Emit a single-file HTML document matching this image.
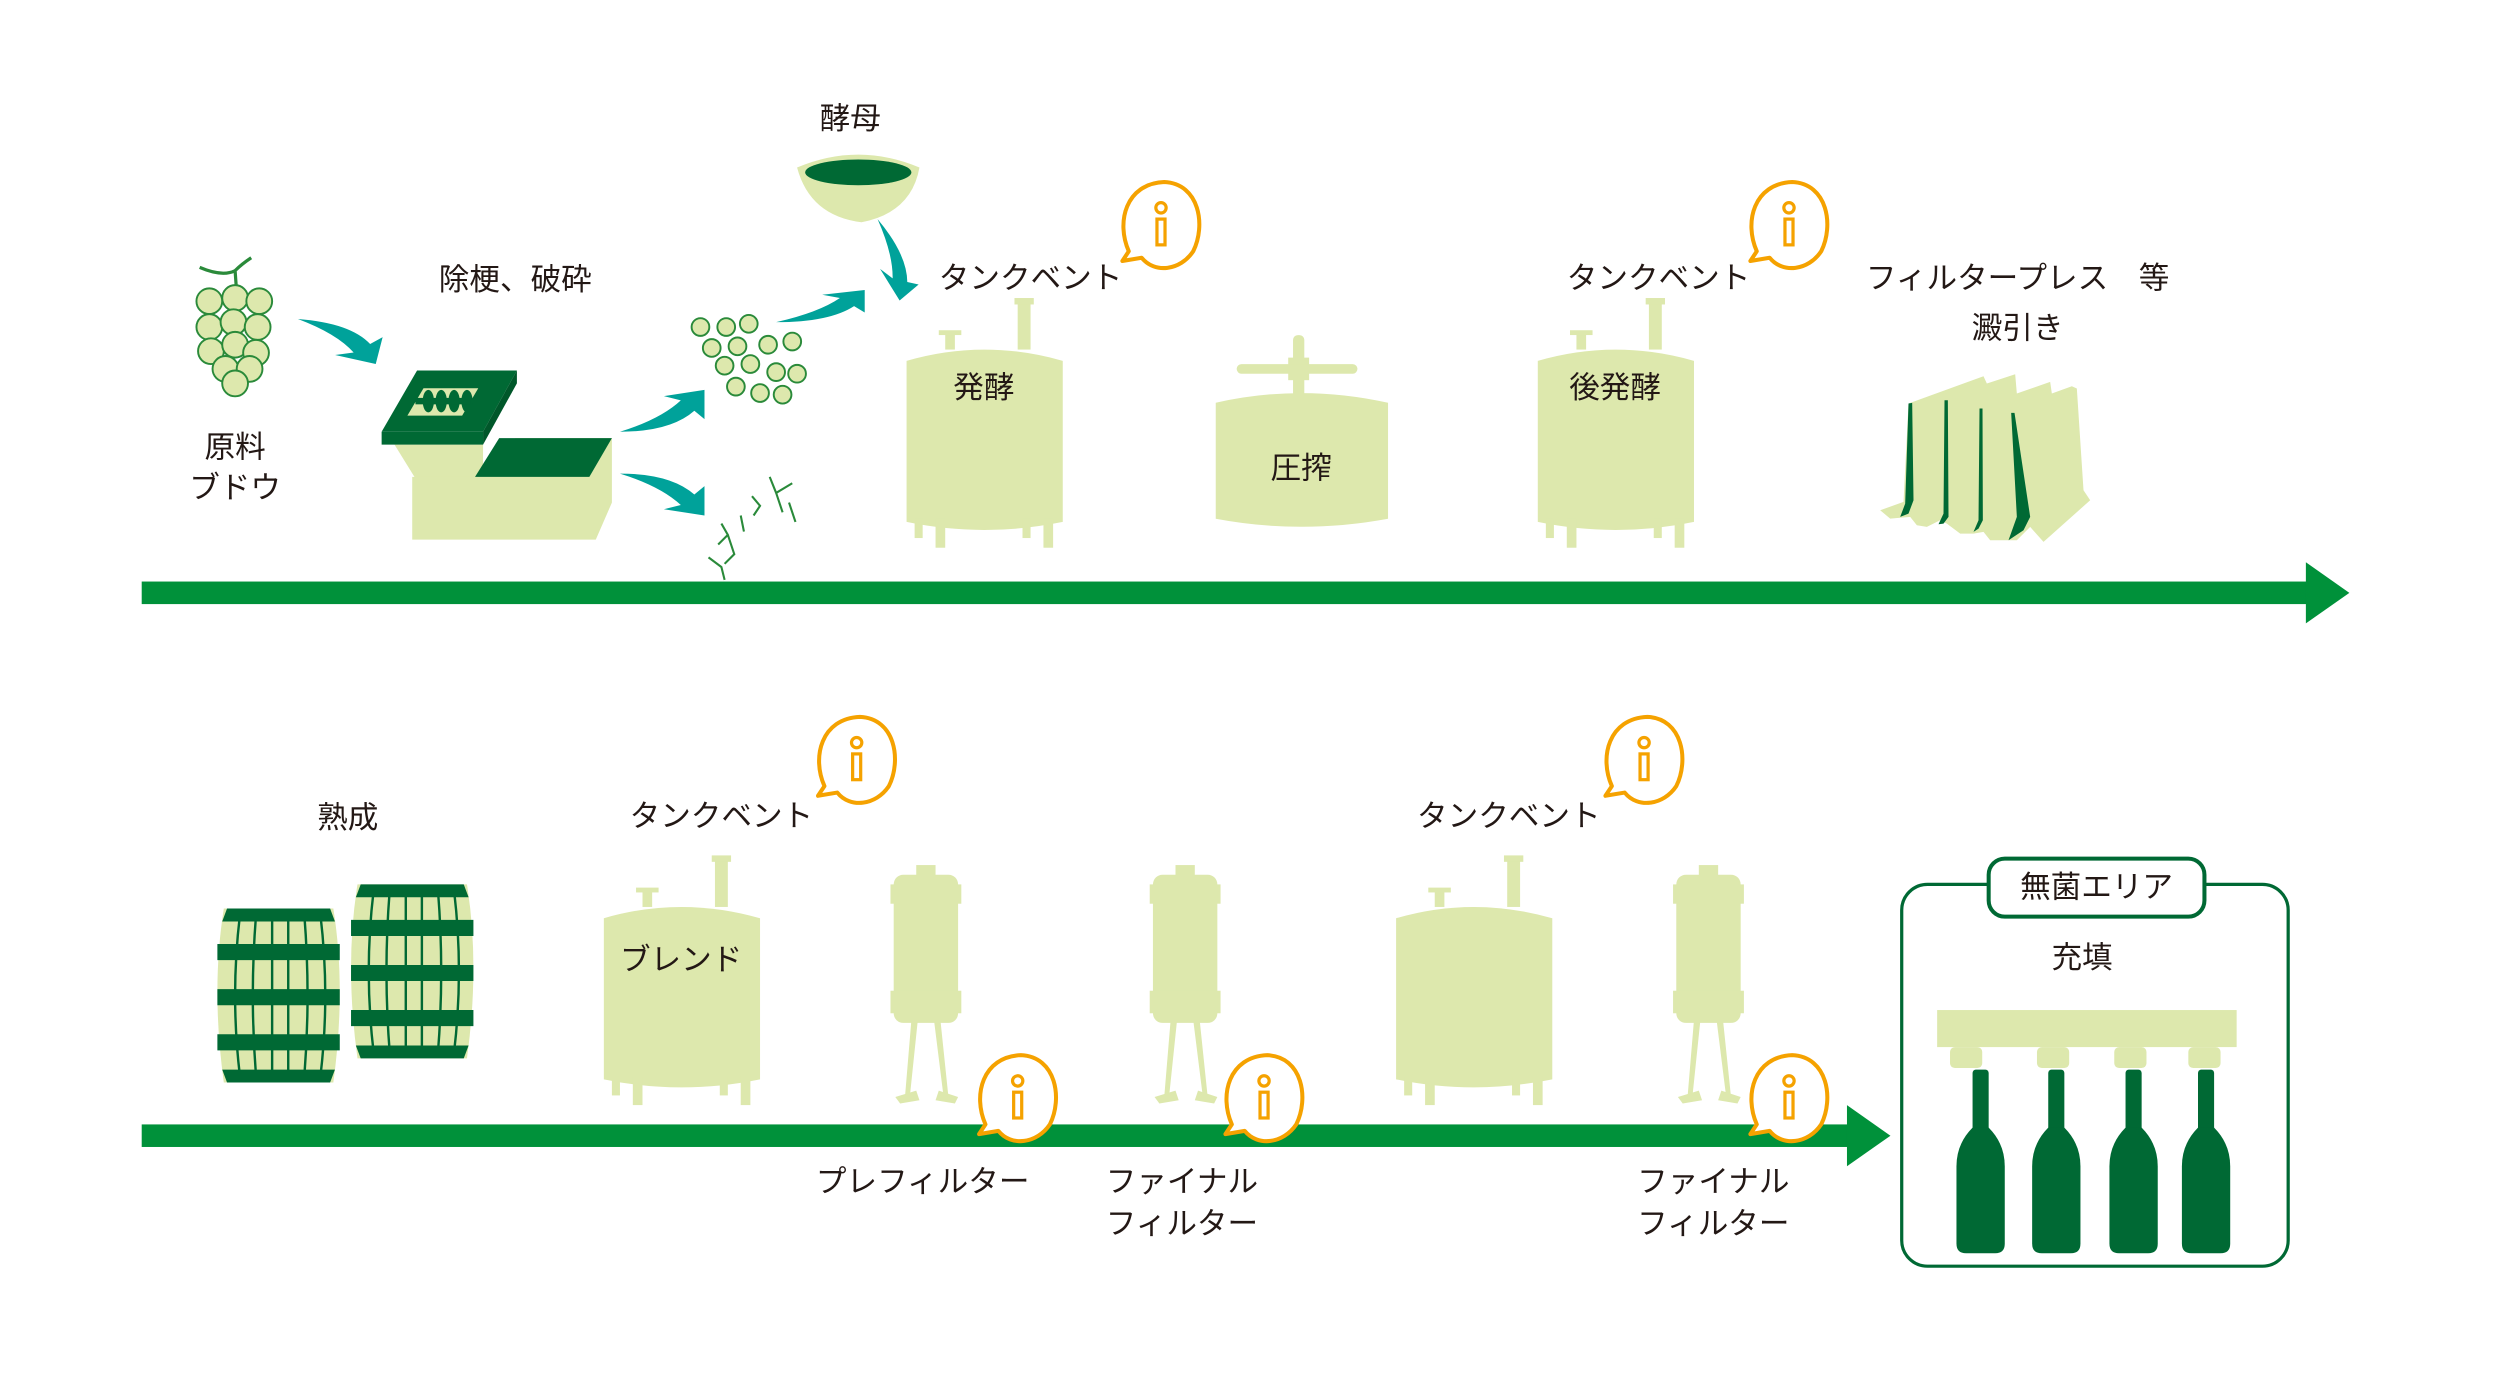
<!DOCTYPE html>
<html><head><meta charset="utf-8"><style>
html,body{margin:0;padding:0;background:#fff;}
svg{display:block;}
text{font-family:"Liberation Sans","Noto Sans CJK JP",sans-serif;fill:#231815;font-size:19px;text-anchor:middle;}
</style></head><body>
<svg width="2512" height="1387" viewBox="0 0 1560 861" preserveAspectRatio="none" xmlns="http://www.w3.org/2000/svg">
<defs>
<g id="info">
  <path d="M-20,16 C-28,-2 -22,-26 2,-27 C24,-26 28,0 20,16 C12,28 -4,30 -12,20 L-24,22 Z" fill="#fff" stroke="#f5a200" stroke-width="2.5" stroke-linejoin="round"/>
  <circle cx="0" cy="-11" r="3.2" fill="none" stroke="#f5a200" stroke-width="2"/>
  <rect x="-2.5" y="-4" width="5" height="16" fill="none" stroke="#f5a200" stroke-width="2"/>
</g>
<g id="tank">
  <path d="M0,12 Q48,-2 97,12 L97,112 Q48,122 0,112 Z" fill="#dde8ad"/>
  <rect x="69" y="-25" width="8" height="30" fill="#dde8ad"/>
  <rect x="67" y="-27" width="12" height="4" fill="#dde8ad"/>
  <rect x="24" y="-5" width="6" height="10" fill="#dde8ad"/>
  <rect x="20" y="-7" width="14" height="3" fill="#dde8ad"/>
  <rect x="5" y="110" width="5" height="12" fill="#dde8ad"/>
  <rect x="18" y="110" width="6" height="18" fill="#dde8ad"/>
  <rect x="72" y="110" width="5" height="12" fill="#dde8ad"/>
  <rect x="85" y="110" width="6" height="18" fill="#dde8ad"/>
</g>
<g id="filt">
  <rect x="0" y="8" width="40" height="92" rx="6" fill="#dde8ad"/>
  <rect x="-2" y="14" width="44" height="12" fill="#dde8ad"/>
  <rect x="-2" y="80" width="44" height="14" fill="#dde8ad"/>
  <rect x="14" y="2" width="12" height="8" fill="#dde8ad"/>
  <path d="M11,98 L7,146 L10,146 L15,98 Z M25,98 L31,146 L34,146 L29,98 Z" fill="#dde8ad"/>
  <path d="M1,146 L14,142 L16,148 L4,150 Z M28,142 L40,146 L38,150 L26,148 Z" fill="#dde8ad"/>
</g>
<g id="barrel">
  <path d="M4,0 L72,0 Q80,50 72,108 L4,108 Q-4,50 4,0 Z" fill="#dde8ad"/>
  <g stroke="#006934" stroke-width="1.5" fill="none">
    <path d="M14,4 Q8,54 14,104 M24,4 Q20,54 24,104 M34,4 L34,104 M44,4 L44,104 M54,4 Q58,54 54,104 M64,4 Q70,54 64,104"/>
  </g>
  <path d="M6,0 L70,0 L73,8 L3,8 Z M3,100 L73,100 L70,108 L6,108 Z" fill="#006934"/>
  <path d="M0,22 L76,22 L76,32 L0,32 Z M0,50 L76,50 L76,60 L0,60 Z M0,78 L76,78 L76,88 L0,88 Z" fill="#006934"/>
</g>
<g id="btl">
  <rect x="10" y="0" width="10" height="38" rx="2" fill="#006934"/>
  <path d="M10,36 L20,36 Q30,46 30,60 L30,108 Q30,114 24,114 L6,114 Q0,114 0,108 L0,60 Q0,46 10,36 Z" fill="#006934"/>
</g>
<g id="tarr"><path d="M0,0 Q30,0 44,20 L50,12 L50,40 L26,34 L36,30 Q24,12 0,0 Z" fill="#00a29a"/></g>
</defs>

<!-- main arrows -->
<rect x="88" y="361" width="1346" height="14" fill="#00913a"/>
<polygon points="1432,349 1459,368 1432,387" fill="#00913a"/>
<rect x="88" y="698" width="1061" height="14" fill="#00913a"/>
<polygon points="1147,686 1174,705 1147,724" fill="#00913a"/>

<!-- grapes -->
<path d="M124,166 Q138,172 146,168 Q150,164 156,160 M146,168 L147,182" stroke="#2a8a3a" stroke-width="2" fill="none"/>
<g fill="#dde8ad" stroke="#2a8a3a" stroke-width="1.2">
<circle cx="130" cy="187" r="8"/><circle cx="146" cy="185" r="8"/><circle cx="161" cy="187" r="8"/>
<circle cx="130" cy="203" r="8"/><circle cx="145" cy="200" r="8"/><circle cx="160" cy="203" r="8"/>
<circle cx="131" cy="218" r="8"/><circle cx="146" cy="214" r="8"/><circle cx="159" cy="219" r="8"/>
<circle cx="140" cy="229" r="8"/><circle cx="155" cy="229" r="8"/><circle cx="146" cy="238" r="8"/>
</g>
<text x="146" y="284">原料</text>
<text x="146" y="309">ブドウ</text>
<use href="#tarr" transform="translate(185,198) scale(1.1,0.6) rotate(8)"/>

<text x="320" y="180">除梗、破砕</text>
<!-- destemmer -->
<path d="M245,276 L300,276 L300,297 L258,297 Z" fill="#dde8ad"/>
<polygon points="256,296 295,296 320,272 380,272 380,312 370,335 256,335" fill="#dde8ad"/>
<polygon points="259,230 321,230 300,268 237,268" fill="#006934"/>
<polygon points="237,268 300,268 300,276 237,276" fill="#006934"/>
<polygon points="300,268 321,230 321,238 300,276" fill="#00572a"/>
<polygon points="263,241 297,241 287,258 253,258" fill="#dde8ad"/>
<g fill="#006934"><ellipse cx="266" cy="249" rx="3.5" ry="7"/><ellipse cx="274" cy="249" rx="3.5" ry="7"/><ellipse cx="282" cy="249" rx="3.5" ry="7"/><ellipse cx="290" cy="249" rx="3.5" ry="7"/><rect x="258" y="247" width="34" height="4"/></g>
<polygon points="310,272 380,272 366,296 295,296" fill="#006934"/>

<use href="#tarr" transform="translate(385,268) scale(1.05,-0.65)"/>
<use href="#tarr" transform="translate(385,294) scale(1.05,0.65)"/>
<!-- berries -->
<g fill="#dde8ad" stroke="#2a8a3a" stroke-width="1.2">
<circle cx="435" cy="203" r="5.5"/><circle cx="451" cy="203" r="5.5"/><circle cx="465" cy="201" r="5.5"/>
<circle cx="442" cy="216" r="5.5"/><circle cx="458" cy="215" r="5.5"/><circle cx="477" cy="214" r="5.5"/><circle cx="492" cy="212" r="5.5"/>
<circle cx="450" cy="227" r="5.5"/><circle cx="466" cy="226" r="5.5"/><circle cx="482" cy="231" r="5.5"/><circle cx="495" cy="232" r="5.5"/>
<circle cx="457" cy="240" r="5.5"/><circle cx="472" cy="244" r="5.5"/><circle cx="486" cy="245" r="5.5"/>
</g>
<use href="#tarr" transform="translate(482,200) scale(1.1,-0.5)"/>
<!-- stems -->
<g stroke="#2a8a3a" stroke-width="1.3" fill="none">
<path d="M478,296 L482,306 L492,300 M482,306 L486,318 M467,308 L472,314 L468,320 M490,312 L494,324 M448,325 L452,332 L446,338 M452,332 L456,344 L450,350 M440,346 L448,352 L450,360 M460,320 L462,330"/>
</g>

<!-- yeast -->
<text x="528" y="80">酵母</text>
<path d="M495,104 Q533,88 571,104 Q566,132 535,138 Q503,134 495,104 Z" fill="#dde8ad"/>
<ellipse cx="533" cy="107" rx="33" ry="8" fill="#006934"/>
<use href="#tarr" transform="translate(545,136) rotate(50) scale(0.95,0.55)"/>

<!-- tank 1 -->
<use href="#tank" transform="translate(563,212)"/>
<text x="611" y="247">発酵</text>
<text x="640" y="179">タンクベント</text>
<use href="#info" transform="translate(721,140)"/>

<!-- press -->
<path d="M755,250 Q808,238 862,250 L862,322 Q808,332 755,322 Z" fill="#dde8ad"/>
<rect x="803" y="208" width="7" height="40" rx="3" fill="#dde8ad"/>
<rect x="800" y="222" width="13" height="14" fill="#dde8ad"/>
<rect x="768" y="226" width="75" height="6" rx="3" fill="#dde8ad"/>
<text x="808" y="297">圧搾</text>

<!-- tank 2 -->
<use href="#tank" transform="translate(955,212)"/>
<text x="1003" y="247">後発酵</text>
<text x="1030" y="179">タンクベント</text>
<use href="#info" transform="translate(1111,140)"/>

<text x="1253" y="179">フィルタープレス　等</text>
<text x="1253" y="210">澱引き</text>
<!-- filter press plates -->
<g transform="translate(1149,223.6) scale(0.207)">
<polygon points="90,450 160,425 175,130 400,48 410,70 495,42 500,100 600,65 605,100 665,78 680,85 700,390 720,420 580,545 540,500 500,540 420,540 400,515 370,520 330,520 290,490 270,480 230,500 200,495 180,470 120,475" fill="#dde8ad"/>
<polygon points="175,130 186,128 190,420 175,460 150,470 165,430" fill="#006934"/>
<polygon points="283,120 293,120 295,470 280,490 265,492 280,460" fill="#006934"/>
<polygon points="388,145 397,145 398,480 385,505 370,515 385,480" fill="#006934"/>
<polygon points="483,158 493,158 540,470 520,510 475,540 500,470" fill="#006934"/>
</g>

<!-- bottom row -->
<text x="216" y="514">熟成</text>
<use href="#barrel" transform="translate(135,564)"/>
<use href="#barrel" transform="translate(218,549)"/>

<use href="#tank" transform="translate(375,558)"/>
<text x="423" y="602">ブレンド</text>
<text x="448" y="513">タンクベント</text>
<use href="#info" transform="translate(532,472)"/>

<use href="#filt" transform="translate(555,535)"/>
<use href="#info" transform="translate(632,682)"/>
<text x="573" y="740">プレフィルター</text>

<use href="#filt" transform="translate(716,535)"/>
<use href="#info" transform="translate(785,682)"/>
<text x="734" y="740">ファイナル</text>
<text x="734" y="766">フィルター</text>

<use href="#tank" transform="translate(867,558)"/>
<text x="937" y="513">タンクベント</text>
<use href="#info" transform="translate(1021,472)"/>

<use href="#filt" transform="translate(1041,535)"/>
<use href="#info" transform="translate(1111,682)"/>
<text x="1064" y="740">ファイナル</text>
<text x="1064" y="766">フィルター</text>

<!-- sterile area -->
<rect x="1181" y="549" width="240" height="237" rx="16" fill="#fff" stroke="#006934" stroke-width="2"/>
<rect x="1235" y="533" width="134" height="36" rx="10" fill="#fff" stroke="#006934" stroke-width="2.5"/>
<text x="1302" y="557">無菌エリア</text>
<text x="1293" y="601">充填</text>
<rect x="1203" y="627" width="186" height="23" fill="#dde8ad"/>
<g fill="#dde8ad">
<rect x="1211" y="650" width="20" height="13" rx="3"/><rect x="1265" y="650" width="20" height="13" rx="3"/><rect x="1313" y="650" width="20" height="13" rx="3"/><rect x="1359" y="650" width="20" height="13" rx="3"/>
</g>
<use href="#btl" transform="translate(1215,664)"/>
<use href="#btl" transform="translate(1262,664)"/>
<use href="#btl" transform="translate(1310,664)"/>
<use href="#btl" transform="translate(1355,664)"/>
</svg>
</body></html>
